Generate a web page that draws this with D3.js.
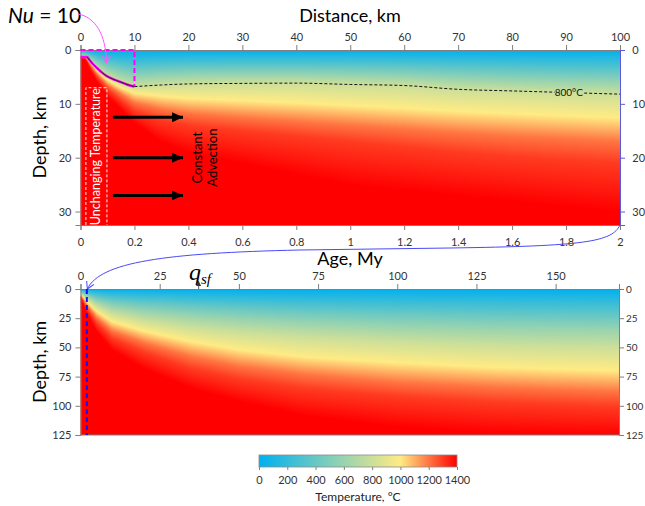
<!DOCTYPE html>
<head>
<meta charset="UTF-8">
<script src="https://d3js.org/d3.v7.min.js"></script>
<style>
  body { margin: 0; background: #fff; }
  svg { font-family: Lato, "Open Sans", sans-serif; }
</style>
</head>
<body>
<div id="chart"></div>
<script>
// ---- data ----
// isotherm temperatures (°C) used for every depth profile
const isoTemps = [0, 200, 400, 600, 800, 1000, 1200, 1300, 1400];

// upper panel: columns along distance from the ridge (km) -> depth (km) of each isotherm
const ridgeDistKm = [0, 1, 2, 3, 5, 7.5, 10, 15, 20, 30, 40, 50, 60, 70, 80, 90, 100];
const ridgeIsoDepth = [
  [0, 0.3, 0.6, 0.9, 1.2, 1.3, 1.35, 1.4, 1.45],
  [0, 0.35, 0.7, 1.0, 1.3, 1.4, 1.5, 1.6, 1.8],
  [0, 0.6, 1.2, 1.7, 2.25, 2.6, 3.0, 3.4, 4.0],
  [0, 0.9, 1.7, 2.5, 3.3, 3.8, 4.4, 4.9, 5.8],
  [0, 1.3, 2.5, 3.7, 4.9, 5.6, 6.5, 7.3, 8.6],
  [0, 1.6, 3.1, 4.6, 6.0, 7.0, 8.2, 9.3, 11],
  [0, 1.8, 3.5, 5.1, 6.8, 8.0, 9.8, 11.3, 13.5],
  [0, 1.7, 3.3, 4.9, 6.5, 8.6, 11, 13, 17],
  [0, 1.6, 3.2, 4.7, 6.3, 9.0, 11.8, 14, 19],
  [0, 1.6, 3.1, 4.6, 6.2, 9.4, 12.6, 15, 21],
  [0, 1.6, 3.1, 4.6, 6.15, 9.8, 13.3, 16, 23],
  [0, 1.6, 3.2, 4.8, 6.4, 10.3, 14, 17, 25],
  [0, 1.7, 3.3, 5.0, 6.6, 10.8, 14.7, 18, 26],
  [0, 1.8, 3.6, 5.4, 7.3, 11.4, 15.4, 19, 27],
  [0, 1.9, 3.8, 5.7, 7.6, 11.8, 16, 19.8, 28],
  [0, 2.0, 4.0, 5.9, 7.9, 12.2, 16.5, 20.4, 29],
  [0, 2.0, 4.1, 6.1, 8.2, 12.6, 17, 21, 30]
];

// lower panel: columns along plate age (My) -> depth (km) of each isotherm
const plateAgeMy = [0, 1, 2, 5, 10, 20, 35, 50, 70, 100, 130, 170];
const plateIsoDepth = [
  [0, 1, 2, 3, 4, 4.5, 5, 5.5, 6],
  [0, 1.5, 3, 4.5, 6, 7.5, 9.5, 11, 14],
  [0, 2, 4, 6, 8.5, 11, 14, 16.5, 20],
  [0, 3.2, 6.8, 10.5, 14.5, 19, 24.5, 29, 36],
  [0, 4.5, 9.5, 15, 21, 28, 36, 42, 52],
  [0, 5.8, 12, 19, 27, 36, 46, 54, 68],
  [0, 7, 14.5, 23, 33, 45, 58, 68, 85],
  [0, 8, 16.5, 26, 37, 52, 66, 77, 96],
  [0, 9, 18.5, 29, 41, 58, 73, 85, 108],
  [0, 10, 20.5, 32, 45, 63, 80, 92, 118],
  [0, 10.5, 22, 34, 48, 67, 84, 97, 123],
  [0, 11, 23, 35, 50, 70, 88, 101, 125]
];

// 800 °C isotherm (dashed) beyond the Nu = 10 zone
const iso800Dist = [10, 15, 20, 30, 40, 50, 60, 70, 80, 90, 100];
const iso800Depth = [6.8, 6.5, 6.3, 6.2, 6.15, 6.4, 6.6, 7.3, 7.6, 7.9, 8.2];

// boundary of the Nu = 10 hydrothermal zone
const nuFrontDist = [0, 1.2, 1.7, 2.3, 3.0, 4.0, 4.8, 6.0, 7.3, 8.6, 10];
const nuFrontDepth = [1.3, 1.3, 1.9, 2.6, 3.3, 4.2, 4.8, 5.4, 5.9, 6.4, 6.8];

const advectionDepths = [12.5, 20, 27];
const tempTicks = [0, 200, 400, 600, 800, 1000, 1200, 1400];
const colorStops = [0, 1000, 1400];
const colorRange = ["#00B0F0", "#FFEB84", "#FF0000"];

// ---- layout ----
const W = 645, H = 506;
const xTop = d3.scaleLinear([0, 100], [80.5, 620]);
const ageTop = d3.scaleLinear([0, 2], [80.5, 620]);
const yTop = d3.scaleLinear([0, 32.5], [50, 225]);
const xBot = d3.scaleLinear([0, 170], [80.5, 619]);
const yBot = d3.scaleLinear([0, 125], [289, 435]);
const cbX = d3.scaleLinear([0, 1400], [259, 457]);
const colour = d3.scaleLinear().domain(colorStops).range(colorRange).interpolate(d3.interpolateRgb).clamp(true);

const svg = d3.select("#chart").append("svg").attr("width", W).attr("height", H);
const defs = svg.append("defs");

function marker(id, path, color, w, h, refX, filled) {
  defs.append("marker").attr("id", id).attr("markerUnits", "userSpaceOnUse")
    .attr("viewBox", `0 ${-h} ${w} ${2 * h}`).attr("refX", refX).attr("refY", 0)
    .attr("markerWidth", w).attr("markerHeight", 2 * h).attr("orient", "auto")
    .append("path").attr("d", path)
    .attr("fill", filled ? color : "none").attr("stroke", color).attr("stroke-width", filled ? 0 : 1);
}
marker("headBlack", "M0,-5L11,0L0,5Z", "#000", 11, 5, 11, true);
marker("headMag", "M0,-4L7,0L0,4", "#ff55ff", 8, 4.5, 7, false);
marker("headBlue", "M0,-4L7,0L0,4", "#4a4af5", 8, 4.5, 7, false);
marker("headSmall", "M0,-2.5L5,0L0,2.5Z", "#333", 5, 2.5, 5, true);

// temperature field drawn into an image through the scales
const lut = d3.range(0, 1401).map(t => d3.rgb(colour(t)));
function fieldImage(x, y, cols, depths) {
  const [x0, x1] = x.range(), [y0, y1] = y.range();
  const w = Math.round(x1 - x0), h = Math.round(y1 - y0);
  const cv = document.createElement("canvas");
  cv.width = w; cv.height = h;
  const ctx = cv.getContext("2d");
  const img = ctx.createImageData(w, h);
  const bis = d3.bisector(d => d).right;
  for (let i = 0; i < w; i++) {
    const v = x.invert(x0 + i + 0.5);
    const k = Math.min(Math.max(bis(cols, v) - 1, 0), cols.length - 2);
    const f = Math.max(0, Math.min(1, (v - cols[k]) / (cols[k + 1] - cols[k])));
    const dz = depths[k].map((d, j) => d + (depths[k + 1][j] - d) * f);
    const prof = d3.scaleLinear().domain(dz).range(isoTemps).clamp(true);
    for (let r = 0; r < h; r++) {
      const c = lut[Math.round(prof(y.invert(y0 + r + 0.5)))];
      const p = (r * w + i) * 4;
      img.data[p] = c.r; img.data[p + 1] = c.g; img.data[p + 2] = c.b; img.data[p + 3] = 255;
    }
  }
  ctx.putImageData(img, 0, 0);
  return { href: cv.toDataURL(), x: x0, y: y0, w, h };
}

function drawField(f) {
  svg.append("image").attr("href", f.href).attr("x", f.x).attr("y", f.y)
    .attr("width", f.w).attr("height", f.h).attr("preserveAspectRatio", "none");
}
drawField(fieldImage(xTop, yTop, ridgeDistKm, ridgeIsoDepth));
drawField(fieldImage(xBot, yBot, plateAgeMy, plateIsoDepth));

// ---- axes ----
const axisCol = "#7f7f7f", labCol = "#333";
function axis(gen, scale, major, minor, fmt, tx, ty, col) {
  const g = svg.append("g").attr("transform", `translate(${tx},${ty})`);
  g.call(gen(scale).tickValues(minor).tickSize(3).tickFormat(""));
  g.call(gen(scale).tickValues(major).tickSize(5).tickPadding(4).tickFormat(fmt));
  g.attr("font-family", null);
  g.selectAll("path.domain, line").attr("stroke", col || axisCol);
  g.selectAll("text").attr("fill", labCol).attr("font-size", 11);
  return g;
}
const intF = d3.format("d"), ageF = d => String(+d.toFixed(1));

// upper panel
axis(d3.axisTop, xTop, d3.range(0, 101, 10), d3.range(0, 101, 5), intF, 0, yTop(0));
axis(d3.axisBottom, ageTop, d3.range(0, 2.01, 0.2), d3.range(0, 2.001, 0.05), ageF, 0, yTop(32.5))
  .selectAll("text").attr("dy", "1.05em");
axis(d3.axisLeft, yTop, [0, 10, 20, 30], d3.range(0, 33, 2), intF, xTop(0), 0);
axis(d3.axisRight, yTop, [0, 10, 20, 30], d3.range(0, 33, 2), intF, xTop(100), 0, "#5a5ae0")
  .selectAll("text").attr("dx", "0.3em");

// lower panel
axis(d3.axisTop, xBot, d3.range(0, 151, 25), d3.range(0, 171, 5), intF, 0, yBot(0));
axis(d3.axisLeft, yBot, d3.range(0, 126, 25), d3.range(0, 126, 5), intF, xBot(0), 0);
axis(d3.axisRight, yBot, d3.range(0, 126, 25), d3.range(0, 126, 5), intF, xBot(170), 0)
  .selectAll("text").attr("dx", -2).attr("font-size", 10);
svg.append("line").attr("x1", xBot(0)).attr("x2", xBot(170)).attr("y1", yBot(125)).attr("y2", yBot(125))
  .attr("stroke", axisCol);

// titles
svg.append("text").attr("x", 350).attr("y", 22).attr("text-anchor", "middle").attr("font-size", 18).text("Distance, km");
svg.append("text").attr("x", 350).attr("y", 265).attr("text-anchor", "middle").attr("font-size", 18).text("Age, My");
svg.append("text").attr("transform", `translate(46,${(yTop(0) + yTop(32.5)) / 2}) rotate(-90)`)
  .attr("text-anchor", "middle").attr("font-size", 18).text("Depth, km");
svg.append("text").attr("transform", `translate(46,${(yBot(0) + yBot(125)) / 2}) rotate(-90)`)
  .attr("text-anchor", "middle").attr("font-size", 18).text("Depth, km");

const nu = svg.append("text").attr("x", 8).attr("y", 23).attr("font-size", 21);
nu.append("tspan").attr("font-style", "italic").text("Nu");
nu.append("tspan").text(" = 10");

// ---- annotations in the upper panel ----
const line = d3.line().x(d => xTop(d[0])).y(d => yTop(d[1])).curve(d3.curveMonotoneX);

// 800 °C dashed isotherm with a gap for its label
const lblDist = 90.5, lblDepth = d3.scaleLinear(iso800Dist, iso800Depth)(lblDist);
const mask = defs.append("mask").attr("id", "lblGap");
mask.append("rect").attr("width", W).attr("height", H).attr("fill", "#fff");
mask.append("rect").attr("x", xTop(lblDist) - 14).attr("y", yTop(lblDepth) - 8).attr("width", 28).attr("height", 16).attr("fill", "#000");
svg.append("path").attr("d", line(d3.zip(iso800Dist, iso800Depth))).attr("fill", "none")
  .attr("stroke", "#111").attr("stroke-width", 1).attr("stroke-dasharray", "3,2").attr("mask", "url(#lblGap)");
svg.append("text").attr("x", xTop(lblDist)).attr("y", yTop(lblDepth) + 3.5).attr("text-anchor", "middle")
  .attr("font-size", 10).attr("fill", "#111").text("800°C");

// Nu = 10 zone
svg.append("path").attr("d", `M${xTop(0)},${yTop(0)}H${xTop(10)}V${yTop(6.8)}`).attr("fill", "none")
  .attr("stroke", "#ff00ff").attr("stroke-width", 2).attr("stroke-dasharray", "5,3");
const front = d3.zip(nuFrontDist, nuFrontDepth);
svg.append("path").attr("d", line(front)).attr("fill", "none").attr("stroke", "#ff00ff").attr("stroke-width", 2.5);
svg.append("path").attr("d", line(front.slice(1))).attr("fill", "none").attr("stroke", "#222").attr("stroke-width", 1);

// unchanging-temperature box
svg.append("path").attr("d", `M${xTop(1)},${yTop(32.5)}V${yTop(7)}H${xTop(4.9)}V${yTop(32.5)}`).attr("fill", "none")
  .attr("stroke", "#ffe8e8").attr("stroke-width", 1).attr("stroke-dasharray", "3,2");
svg.append("text").attr("transform", `translate(${xTop(2.95) + 4},${yTop(19.8)}) rotate(-90)`)
  .attr("text-anchor", "middle").attr("font-size", 12.5).attr("fill", "#fff").text("Unchanging Temperature");

// advection arrows
svg.selectAll("line.adv").data(advectionDepths).join("line").attr("class", "adv")
  .attr("x1", xTop(6)).attr("x2", xTop(19)).attr("y1", d => yTop(d)).attr("y2", d => yTop(d))
  .attr("stroke", "#000").attr("stroke-width", 3).attr("marker-end", "url(#headBlack)");
const adv = svg.append("text").attr("transform", `translate(${xTop(22.6)},${yTop(20)}) rotate(-90)`)
  .attr("text-anchor", "middle").attr("font-size", 13);
adv.append("tspan").attr("x", 0).attr("dy", 0).text("Constant");
adv.append("tspan").attr("x", 0).attr("dy", "1.1em").text("Advection");

// connectors
svg.append("path").attr("d", `M78,14C95,17 106,34 106.5,${yTop(2.4)}`).attr("fill", "none")
  .attr("stroke", "#ff55ff").attr("stroke-width", 1).attr("marker-end", "url(#headMag)");
svg.append("path")
  .attr("d", `M${xTop(100)},${yTop(32.5)}C612,242 585,246 450,248L300,250C165,253 100,262 ${xBot(2) + 0.5},${yBot(0)}`)
  .attr("fill", "none").attr("stroke", "#4a4af5").attr("stroke-width", 1).attr("marker-end", "url(#headBlue)");

// ---- lower panel annotations ----
svg.append("line").attr("x1", xBot(2)).attr("x2", xBot(2)).attr("y1", yBot(0)).attr("y2", yBot(125))
  .attr("stroke", "#1010ff").attr("stroke-width", 2).attr("stroke-dasharray", "5,3");
const q = svg.append("text").attr("x", 189).attr("y", 280).style("font-family", "'Liberation Serif', 'DejaVu Serif', serif")
  .attr("font-style", "italic");
q.append("tspan").attr("font-size", 24).text("q");
q.append("tspan").attr("font-size", 15).attr("dy", 4).text("sf");
svg.append("line").attr("x1", xBot(37.3)).attr("x2", xBot(37.3)).attr("y1", yBot(0)).attr("y2", yBot(0) - 8)
  .attr("stroke", "#333").attr("stroke-width", 0.8).attr("marker-end", "url(#headSmall)");

// ---- colour bar ----
const grad = defs.append("linearGradient").attr("id", "cbar");
grad.selectAll("stop").data(colorStops).join("stop")
  .attr("offset", d => d / 1400).attr("stop-color", d => colour(d));
svg.append("rect").attr("x", cbX(0)).attr("y", 455).attr("width", cbX(1400) - cbX(0)).attr("height", 12)
  .attr("fill", "url(#cbar)").attr("stroke", "#8c8c8c").attr("stroke-width", 0.8);
const cb = svg.append("g").attr("transform", "translate(0,467)");
cb.call(d3.axisBottom(cbX).tickValues(d3.range(0, 1401, 50)).tickSize(3).tickFormat(""));
cb.call(d3.axisBottom(cbX).tickValues(tempTicks).tickSize(3).tickPadding(6).tickFormat(intF));
cb.attr("font-family", null);
cb.select("path.domain").remove();
cb.selectAll("line").attr("stroke", axisCol);
cb.selectAll("text").attr("fill", labCol).attr("font-size", 11);
svg.append("text").attr("x", 358).attr("y", 501).attr("text-anchor", "middle").attr("font-size", 12).attr("fill", "#222")
  .text("Temperature, °C");
</script>
</body>
</html>
